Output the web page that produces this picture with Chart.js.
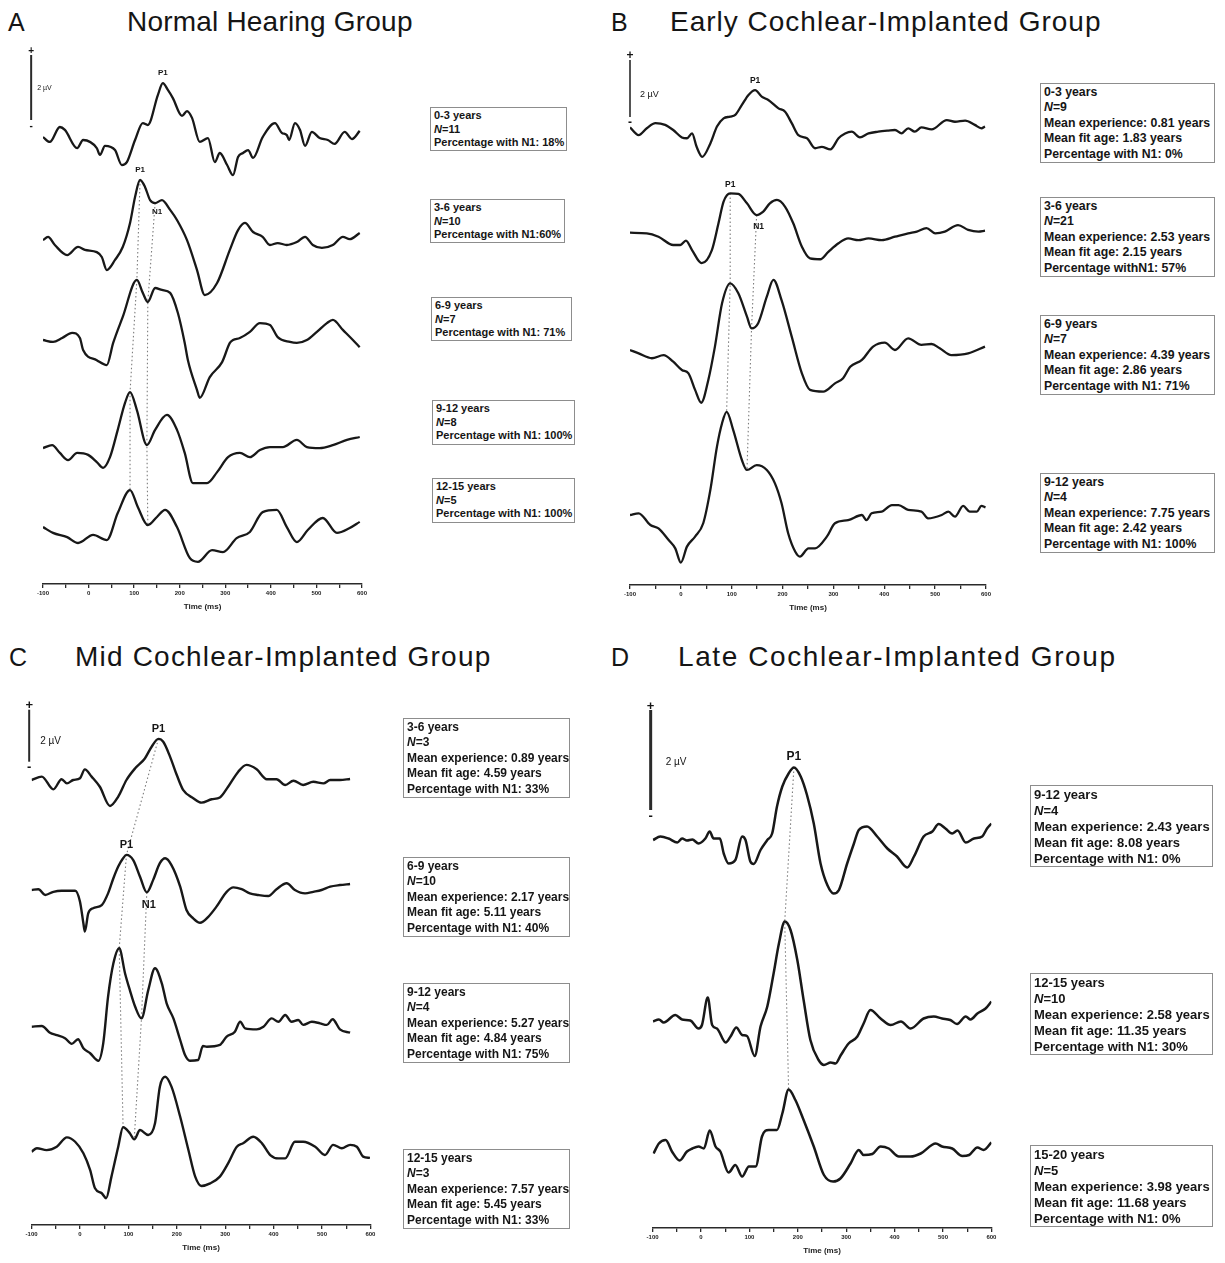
<!DOCTYPE html>
<html>
<head>
<meta charset="utf-8">
<script src="https://cdn.jsdelivr.net/npm/chart.js@4.4.1/dist/chart.umd.min.js"></script>
<style>
  body { margin:0; background:#fff; width:1225px; height:1263px; position:relative; overflow:hidden;
         font-family:"Liberation Sans", Arial, sans-serif; color:#151515; }
  .letter { position:absolute; font-size:25px; line-height:26px; white-space:nowrap; }
  .title { position:absolute; font-size:28px; line-height:28px; white-space:nowrap; }
  .box { position:absolute; box-sizing:border-box; border:1.5px solid #8d8d8d; background:transparent;
         font-weight:bold; white-space:nowrap; padding:1px 3px; z-index:2; }
  canvas { position:absolute; z-index:1; }
</style>
</head>
<body>
<script>
// ---- waveforms: [latency ms, amplitude uV] ----
// A: normal hearing
const nh0_3 = [[-100,0.09],[-85,-0.06],[-63,0.40],[-52,0.31],[-25,-0.25],[-12,0],[18,-0.25],[25,-0.46],[36,-0.18],[58,-0.31],[73,-0.77],[84,-0.68],[102,0],[119,0.52],[130,0.46],[152,1.38],[163,1.75],[174,1.54],[185,1.29],[205,0.74],[216,0.89],[227,0.68],[244,-0.06],[262,0.06],[277,-0.68],[288,-0.40],[304,-0.77],[317,-1.08],[328,-0.52],[339,-0.40],[350,-0.31],[361,-0.55],[382,0.09],[409,0.52],[424,0.22],[435,0.15],[440,0],[453,0.52],[464,0.31],[475,-0.18],[490,0.25],[507,0.06],[525,0],[540,-0.12],[562,0.25],[578,0.03],[595,0.28]];
const nh3_6 = [[-100,0.15],[-89,0.25],[-74,0],[-47,-0.31],[-23,-0.06],[-8,-0.15],[18,-0.22],[29,-0.37],[40,-0.77],[58,-0.46],[75,-0.06],[91,0.68],[102,1.48],[113,2.0],[124,1.78],[135,1.38],[146,1.29],[161,1.38],[179,1.08],[194,0.77],[216,0.15],[238,-0.77],[255,-1.54],[282,-1.17],[310,-0.15],[328,0.46],[343,0.68],[361,0.40],[382,0.25],[398,0],[415,0.06],[435,0],[457,0.09],[475,0.25],[492,0],[512,-0.09],[536,0],[558,0.25],[573,0.18],[595,0.37]];
const nh6_9 = [[-100,0],[-78,-0.06],[-58,0.06],[-36,0.22],[-19,0.06],[-12,-0.31],[18,-0.62],[40,-0.77],[54,-0.09],[75,0.71],[106,1.85],[119,1.45],[130,1.17],[146,1.60],[161,1.54],[179,1.45],[196,0.83],[211,-0.09],[218,-0.62],[238,-1.54],[244,-1.78],[266,-1.14],[293,-0.68],[310,-0.09],[317,0],[332,0.06],[354,0.25],[376,0.52],[398,0.46],[415,0.09],[442,-0.06],[457,-0.09],[479,0],[501,0.25],[523,0.52],[536,0.62],[558,0.31],[580,0],[595,-0.22]];
const nh9_12 = [[-100,0.06],[-80,0.15],[-63,-0.09],[-45,-0.31],[-25,-0.09],[-1,-0.15],[18,-0.37],[32,-0.55],[47,-0.22],[64,0.62],[80,1.45],[91,1.78],[106,1.23],[128,0.15],[146,0.62],[172,1.08],[194,0.62],[211,-0.09],[229,-1.02],[260,-1.02],[282,-0.68],[306,-0.22],[332,-0.09],[354,-0.22],[376,0],[398,0.09],[426,0.09],[457,0.31],[479,0.09],[507,0.06],[536,0.15],[567,0.31],[595,0.40]];
const nh12_15 = [[-100,0.09],[-78,-0.09],[-47,-0.22],[-23,-0.40],[10,-0.15],[40,-0.31],[64,0.52],[91,1.23],[108,0.71],[130,0.15],[150,0.40],[168,0.62],[194,0.09],[222,-0.86],[240,-0.98],[271,-0.62],[295,-0.68],[325,-0.25],[354,-0.06],[382,0.55],[413,0.62],[435,0.09],[457,-0.37],[481,0],[514,0.37],[545,-0.09],[573,0.06],[595,0.25]];
const nhP1 = [163,113,106,91,91];
const nhN1 = [null,146,130,128,130];

// B: early implanted
const ec0_3 = [[-100,0.09],[-83,-0.18],[-67,0.06],[-50,0.24],[-31,0.18],[-15,0],[2,-0.26],[12,-0.29],[22,-0.12],[31,-0.59],[42,-0.94],[58,-0.47],[71,0.12],[84,0.41],[97,0.47],[107,0.53],[120,0.88],[133,1.23],[146,1.40],[159,1.17],[172,1.05],[192,0.76],[205,0.64],[218,0.24],[231,-0.18],[248,-0.29],[264,-0.64],[277,-0.59],[294,-0.68],[310,-0.29],[323,-0.12],[336,-0.06],[352,-0.26],[369,-0.12],[388,-0.06],[408,-0.02],[421,0],[434,-0.12],[447,0.06],[460,-0.06],[473,0.09],[493,0.02],[523,0.35],[539,0.29],[559,0.33],[578,0.18],[591,0.06],[598,0.12]];
const ec3_6 = [[-100,0.08],[-67,0.06],[-44,-0.06],[-15,-0.35],[-1,-0.35],[10,-0.2],[22,-0.53],[41,-0.99],[61,-0.53],[74,0.41],[84,1.17],[97,1.46],[113,1.44],[130,1.11],[149,0.70],[162,0.82],[175,1.11],[189,1.23],[205,0.99],[221,0.41],[238,-0.41],[254,-0.82],[274,-0.85],[290,-0.59],[310,-0.29],[329,-0.12],[349,-0.18],[369,-0.12],[395,-0.18],[421,-0.06],[447,0.06],[464,0.12],[483,0.24],[500,0.06],[519,0.12],[545,0.35],[565,0.18],[585,0.12],[598,0.15]];
const ec6_9 = [[-100,0],[-83,-0.12],[-57,-0.29],[-34,-0.18],[-15,-0.41],[2,-0.70],[15,-0.82],[28,-1.40],[40,-1.85],[54,-1.05],[67,0.12],[81,1.64],[97,2.34],[113,1.99],[130,1.17],[139,0.76],[152,0.94],[169,1.87],[182,2.46],[198,1.75],[218,0.47],[238,-0.82],[254,-1.40],[280,-1.46],[303,-1.17],[319,-0.99],[333,-0.59],[356,-0.35],[378,0.12],[401,0.26],[421,0],[447,0.41],[473,0.18],[493,0.21],[509,0.06],[532,-0.18],[565,-0.12],[598,0.12]];
const ec9_12 = [[-100,0],[-83,0.06],[-60,-0.35],[-44,-0.47],[-24,-0.88],[-11,-1.17],[0,-1.67],[12,-1.11],[28,-0.76],[44,-0.29],[58,0.88],[71,2.4],[81,3.22],[90,3.62],[103,2.98],[120,1.93],[130,1.58],[149,1.75],[169,1.58],[185,1.11],[198,0.41],[211,-0.64],[225,-1.29],[234,-1.46],[251,-1.17],[264,-1.17],[287,-0.76],[303,-0.29],[329,-0.18],[356,0],[365,-0.18],[375,0.06],[395,0.12],[415,0.35],[428,0.35],[447,0.18],[473,0.12],[486,-0.12],[513,0],[526,0.12],[539,-0.06],[555,0.32],[568,0.12],[582,0.12],[591,0.32],[599,0.27]];
const ecP1 = [146,97,97,90];
const ecN1 = [null,149,139,130];

// C: mid implanted
const mc3_6 = [[-100,0],[-79,0.13],[-55,-0.36],[-38,0.03],[-27,-0.13],[-14,0],[0,0.07],[10,0.41],[24,0.13],[41,-0.26],[62,-1.0],[79,-0.64],[96,0],[114,0.45],[134,0.83],[148,1.28],[162,1.58],[172,1.47],[186,0.90],[200,0.19],[213,-0.38],[234,-0.70],[251,-0.87],[272,-0.74],[289,-0.67],[306,-0.26],[327,0.32],[344,0.58],[365,0.41],[386,0.03],[406,0.03],[424,-0.19],[441,-0.03],[461,-0.19],[482,-0.07],[503,-0.13],[517,0],[537,0],[558,0.04]];
const mc6_9 = [[-100,0],[-86,0.03],[-72,-0.19],[-55,-0.07],[-38,-0.03],[-10,-0.03],[0,-0.45],[7,-1.28],[10,-1.60],[17,-0.90],[27,-0.70],[45,-0.58],[58,-0.13],[69,0.45],[79,0.90],[89,1.22],[96,1.35],[110,1.15],[124,0.51],[138,-0.09],[151,0.38],[165,1.03],[176,1.22],[189,0.96],[207,0.13],[220,-0.77],[234,-1.09],[248,-1.26],[265,-1.03],[282,-0.64],[303,-0.07],[317,0.10],[334,0.03],[351,-0.13],[368,-0.19],[389,-0.23],[406,0.03],[427,0.26],[444,0],[465,-0.13],[482,-0.07],[499,0],[517,0.13],[537,0.19],[558,0.23]];
const mc9_12 = [[-100,0.01],[-79,0.04],[-62,-0.22],[-48,-0.31],[-31,-0.43],[-17,-0.65],[-4,-0.47],[7,-0.82],[21,-1.01],[38,-1.30],[48,-0.63],[58,1.17],[69,2.45],[81,3.03],[93,2.07],[103,1.42],[114,0.78],[127,0.33],[141,1.42],[155,2.26],[169,1.68],[179,0.91],[193,0.33],[207,-0.50],[217,-1.08],[227,-1.30],[244,-1.27],[254,-0.73],[262,-0.76],[289,-0.69],[303,-0.37],[320,-0.18],[331,0.20],[341,-0.05],[365,-0.09],[379,0.01],[396,0.33],[410,0.20],[424,0.46],[437,0.20],[451,0.27],[461,0.08],[479,0.20],[496,0.14],[510,0.08],[522,0.30],[537,-0.09],[558,-0.22]];
const mc12_15 = [[-100,-0.14],[-89,-0.01],[-69,-0.08],[-48,0.05],[-27,0.41],[-10,0.24],[7,-0.20],[21,-0.85],[31,-1.55],[45,-1.74],[54,-1.93],[65,-1.10],[79,0.05],[89,0.80],[103,0.57],[112,0.33],[124,0.69],[141,0.50],[155,0.95],[165,2.36],[176,2.74],[189,2.36],[207,1.20],[224,-0.08],[238,-1.10],[251,-1.46],[269,-1.36],[289,-1.10],[306,-0.59],[324,0.05],[337,0.18],[358,0.43],[376,0.18],[393,-0.27],[410,-0.40],[424,-0.40],[444,0.24],[461,0.24],[486,0.05],[506,-0.27],[523,0.12],[541,-0.01],[558,0.12],[572,0.05],[585,-0.33],[599,-0.38]];
const mcP1 = [162,96,81,89];
const mcN1 = [null,138,127,112];

// D: late implanted
const lc9_12 = [[-99,0],[-84,0.07],[-67,0.03],[-49,-0.05],[-39,0.03],[-29,-0.01],[-18,0.01],[-5,-0.07],[9,0.03],[18,0.17],[26,0.03],[39,0.03],[47,-0.27],[57,-0.47],[71,-0.40],[85,0.07],[92,0],[102,-0.43],[109,-0.48],[123,-0.2],[137,0],[147,0.13],[157,0.67],[168,1.07],[181,1.33],[192,1.45],[206,1.27],[219,0.9],[233,0.33],[247,-0.47],[261,-0.9],[274,-1.07],[285,-1.0],[302,-0.47],[316,-0.07],[326,0.2],[343,0.27],[364,0.07],[385,-0.17],[405,-0.33],[426,-0.55],[440,-0.33],[460,0.07],[478,0.17],[491,0.32],[505,0.23],[519,0.13],[530,0.19],[547,-0.05],[564,0.03],[581,0.07],[591,0.23],[600,0.33]];
const lc12_15 = [[-99,-0.03],[-87,0.01],[-77,-0.05],[-53,0.1],[-39,0.01],[-22,-0.01],[-5,-0.17],[2,-0.1],[14,0.45],[23,-0.1],[33,-0.17],[51,-0.45],[61,-0.33],[73,-0.15],[85,-0.3],[95,-0.32],[111,-0.72],[123,-0.13],[137,0.27],[150,0.93],[161,1.53],[173,1.97],[185,1.8],[199,1.2],[212,0.4],[226,-0.4],[243,-0.8],[254,-0.9],[268,-0.85],[278,-0.87],[289,-0.7],[305,-0.47],[323,-0.33],[336,-0.07],[350,0.2],[371,0.03],[392,-0.1],[413,-0.03],[433,-0.17],[460,0.03],[481,0.07],[498,0.03],[515,0],[529,-0.08],[547,0.07],[557,0.01],[571,0.13],[588,0.23],[600,0.37]];
const lc15_20 = [[-98,-0.07],[-87,0.13],[-73,0.2],[-60,-0.03],[-44,-0.21],[-29,-0.03],[-18,0.03],[-5,0.07],[6,0.03],[18,0.39],[30,0.07],[40,-0.03],[57,-0.45],[71,-0.3],[85,-0.53],[99,-0.33],[113,-0.33],[126,0.27],[140,0.4],[157,0.4],[168,0.73],[181,1.21],[195,1.0],[212,0.6],[233,0.07],[254,-0.5],[273,-0.63],[288,-0.57],[309,-0.27],[326,0],[336,-0.1],[354,-0.08],[371,0.07],[388,0.03],[409,-0.13],[433,-0.13],[454,-0.07],[485,0.13],[498,0.07],[519,0.03],[540,-0.12],[554,-0.1],[571,0.05],[584,0],[600,0.15]];
const lcP1 = [192,173,181];

const scaleBarUV = 2;

// ---- group info boxes ----
const nhAges = ['0-3','3-6','6-9','9-12','12-15'];
const nhN = [11,10,7,8,5];
const nhPct = ['Percentage with N1: 18%','Percentage with N1:60%','Percentage with N1: 71%','Percentage with N1: 100%','Percentage with N1: 100%'];

const ecAges = ['0-3','3-6','6-9','9-12'];
const ecN = [9,21,7,4];
const ecExp = [0.81,2.53,4.39,7.75];
const ecFit = [1.83,2.15,2.86,2.42];
const ecPct = ['Percentage with N1: 0%','Percentage withN1: 57%','Percentage with N1: 71%','Percentage with N1: 100%'];

const mcAges = ['3-6','6-9','9-12','12-15'];
const mcN = [3,10,4,3];
const mcExp = [0.89,2.17,5.27,7.57];
const mcFit = [4.59,5.11,4.84,5.45];
const mcPct = ['Percentage with N1: 33%','Percentage with N1: 40%','Percentage with N1: 75%','Percentage with N1: 33%'];

const lcAges = ['9-12','12-15','15-20'];
const lcN = [4,10,5];
const lcExp = [2.43,2.58,3.98];
const lcFit = [8.08,11.35,11.68];
const lcPct = ['Percentage with N1: 0%','Percentage with N1: 30%','Percentage with N1: 0%'];

Chart.defaults.font.family = '"Liberation Sans", Arial, sans-serif';
Chart.defaults.color = '#222';

function valueAt(trace, t) {
    const p = trace.find(d => d[0] === t);
    return p ? p[1] : 0;
}

function addText(cls, text, left, top, spacing) {
    const d = document.createElement('div');
    d.className = cls;
    d.textContent = text;
    d.style.left = left + 'px';
    d.style.top = top + 'px';
    if (spacing) d.style.letterSpacing = spacing + 'px';
    document.body.appendChild(d);
}

function addBoxes(spots, ages, ns, exps, fits, pcts, fontSize, lineH) {
    spots.forEach((s, i) => {
        const d = document.createElement('div');
        d.className = 'box';
        d.style.cssText = `left:${s[0]}px;top:${s[1]}px;width:${s[2]}px;height:${s[3]}px;font-size:${fontSize}px;line-height:${lineH}px;`;
        let lines = [ages[i] + ' years', '<i>N</i>=' + ns[i]];
        if (exps) {
            lines.push('Mean experience: ' + exps[i].toFixed(2) + ' years');
            lines.push('Mean fit age: ' + fits[i].toFixed(2) + ' years');
        }
        lines.push(pcts[i]);
        d.innerHTML = lines.join('<br>');
        document.body.appendChild(d);
    });
}

function buildPanel(cfg) {
    const L = cfg.layout;
    const axisH = 30;
    const h = L.axisY - L.top + axisH;
    const cv = document.createElement('canvas');
    cv.width = L.width;
    cv.height = h;
    cv.style.left = L.left + 'px';
    cv.style.top = L.top + 'px';
    document.body.appendChild(cv);

    const offs = L.bases.map(b => (L.axisY - b) / L.pxPerUV);

    let datasets = cfg.traces.map((tr, i) => ({
        data: tr.map(d => ({ x: d[0], y: offs[i] + d[1] })),
        borderColor: '#181818',
        borderWidth: L.lw,
        pointRadius: 0,
        cubicInterpolationMode: 'monotone',
        order: 0
    }));

    function peakLine(lat, from) {
        let pts = [];
        lat.forEach((t, i) => {
            if (t === null || i < from) return;
            pts.push({ x: t, y: offs[i] + valueAt(cfg.traces[i], t) });
        });
        return {
            data: pts, borderColor: '#7d7d7d', borderWidth: 1.1, borderDash: [1.5, 2.5],
            pointRadius: 0, tension: 0, order: 1
        };
    }
    datasets.push(peakLine(cfg.p1, cfg.p1From));
    if (cfg.n1) datasets.push(peakLine(cfg.n1, 1));

    const barBase = (L.axisY - L.bar.bottom) / L.pxPerUV;
    datasets.push({
        data: [{ x: L.bar.t, y: barBase }, { x: L.bar.t, y: barBase + scaleBarUV }],
        borderColor: '#2a2a2a', borderWidth: L.bar.w, pointRadius: 0, clip: false, order: 0
    });

    const labelPlugin = {
        id: 'peakLabels',
        afterDatasetsDraw(chart) {
            const c = chart.ctx, xs = chart.scales.x, ys = chart.scales.y;
            c.save();
            c.fillStyle = '#151515';
            c.textAlign = 'center';
            c.textBaseline = 'middle';
            c.font = `bold ${L.lab}px "Liberation Sans", Arial, sans-serif`;
            cfg.p1Labels.forEach(i => {
                const t = cfg.p1[i];
                c.fillText('P1', xs.getPixelForValue(t), ys.getPixelForValue(offs[i] + valueAt(cfg.traces[i], t)) - L.gap);
            });
            if (cfg.n1) {
                const t = cfg.n1[1];
                c.fillText('N1', xs.getPixelForValue(t) + 2, ys.getPixelForValue(offs[1] + valueAt(cfg.traces[1], t)) + L.gapN);
            }
            const bx = xs.getPixelForValue(L.bar.t);
            const yTop = ys.getPixelForValue(barBase + scaleBarUV);
            const yBot = ys.getPixelForValue(barBase);
            c.font = `bold ${L.bar.font + 3}px "Liberation Sans", Arial, sans-serif`;
            c.fillText('+', bx, yTop - 4);
            c.fillText('-', bx, yBot + 6);
            c.textAlign = 'left';
            c.font = `${L.bar.font}px "Liberation Sans", Arial, sans-serif`;
            c.fillText(scaleBarUV + ' \u00b5V', bx + L.bar.tx, (yTop + yBot) / 2 + L.bar.ty);
            c.restore();
        }
    };

    new Chart(cv.getContext('2d'), {
        type: 'line',
        data: { datasets: datasets },
        options: {
            responsive: false,
            animation: false,
            devicePixelRatio: 1,
            layout: { padding: { left: L.plotLeft - L.left, right: L.left + L.width - L.plotRight, top: 0, bottom: 0 } },
            plugins: { legend: { display: false }, tooltip: { enabled: false } },
            scales: {
                x: {
                    type: 'linear', min: -100, max: 600,
                    afterFit: s => { s.height = axisH; },
                    border: { display: true, color: '#2a2a2a', width: 1.5 },
                    grid: { display: true, drawOnChartArea: false, drawTicks: true, tickLength: 4, color: '#2a2a2a', lineWidth: 1.3 },
                    ticks: {
                        stepSize: 50, autoSkip: false, maxRotation: 0, padding: 2,
                        font: { size: 6, weight: 'bold' }, color: '#222',
                        callback: v => (v % 100 === 0 ? String(v) : '')
                    },
                    title: { display: true, text: 'Time (ms)', font: { size: 8, weight: 'bold' }, color: '#222', padding: { top: 2, bottom: 2 } }
                },
                y: { display: false, min: 0, max: (L.axisY - L.top) / L.pxPerUV }
            }
        },
        plugins: [labelPlugin]
    });
}

// ---- titles ----
addText('letter', 'A', 8, 9);
addText('title', 'Normal Hearing Group', 127, 8, 0.2);
addText('letter', 'B', 611, 9);
addText('title', 'Early Cochlear-Implanted Group', 670, 8, 1.0);
addText('letter', 'C', 9, 644);
addText('title', 'Mid Cochlear-Implanted Group', 75, 643, 1.2);
addText('letter', 'D', 611, 644);
addText('title', 'Late Cochlear-Implanted Group', 678, 643, 1.6);

buildPanel({
    traces: [nh0_3, nh3_6, nh6_9, nh9_12, nh12_15], p1: nhP1, p1From: 1, p1Labels: [0, 1], n1: nhN1,
    layout: { left: 0, top: 40, width: 420, plotLeft: 43, plotRight: 362, axisY: 584, pxPerUV: 32.5,
              bases: [140, 245, 340, 450, 530], lw: 2.3, lab: 8, gap: 10, gapN: 9,
              bar: { t: -126, bottom: 120, w: 2, font: 7, tx: 6, ty: 1 } }
});
buildPanel({
    traces: [ec0_3, ec3_6, ec6_9, ec9_12], p1: ecP1, p1From: 1, p1Labels: [0, 1], n1: ecN1,
    layout: { left: 600, top: 40, width: 420, plotLeft: 630, plotRight: 986, axisY: 585, pxPerUV: 28.5,
              bases: [130, 235, 350, 515], lw: 2.3, lab: 8.5, gap: 9, gapN: 12,
              bar: { t: -100, bottom: 117, w: 1.6, font: 9, tx: 10, ty: 6 } }
});
buildPanel({
    traces: [mc3_6, mc6_9, mc9_12, mc12_15], p1: mcP1, p1From: 0, p1Labels: [0, 1], n1: mcN1,
    layout: { left: 0, top: 680, width: 420, plotLeft: 31.6, plotRight: 370.4, axisY: 1225, pxPerUV: 26,
              bases: [780, 890, 1027, 1148], lw: 2.4, lab: 11, gap: 10, gapN: 13,
              bar: { t: -105, bottom: 761.7, w: 2, font: 10, tx: 11, ty: 6 } }
});
buildPanel({
    traces: [lc9_12, lc12_15, lc15_20], p1: lcP1, p1From: 0, p1Labels: [0], n1: null,
    layout: { left: 620, top: 680, width: 420, plotLeft: 652.6, plotRight: 991.4, axisY: 1228, pxPerUV: 50,
              bases: [840, 1020, 1150], lw: 2.5, lab: 12, gap: 11, gapN: 12,
              bar: { t: -104, bottom: 810, w: 3, font: 10, tx: 15, ty: 2 } }
});

// ---- info boxes ----
addBoxes([[430,107,137,44],[430,199,135,44],[431,297,141,44],[432,400,143,45],[432,478,143,45]],
         nhAges, nhN, null, null, nhPct, 11, 13.5);
addBoxes([[1040,83,175,80],[1040,197,175,80],[1040,315,175,80],[1040,473,175,80]],
         ecAges, ecN, ecExp, ecFit, ecPct, 12.3, 15.4);
addBoxes([[403,718,167,80],[403,857,167,80],[403,983,167,80],[403,1149,167,80]],
         mcAges, mcN, mcExp, mcFit, mcPct, 12, 15.4);
addBoxes([[1030,785,183,82],[1030,973,183,82],[1030,1145,183,82]],
         lcAges, lcN, lcExp, lcFit, lcPct, 13, 16);
</script>
</body>
</html>
